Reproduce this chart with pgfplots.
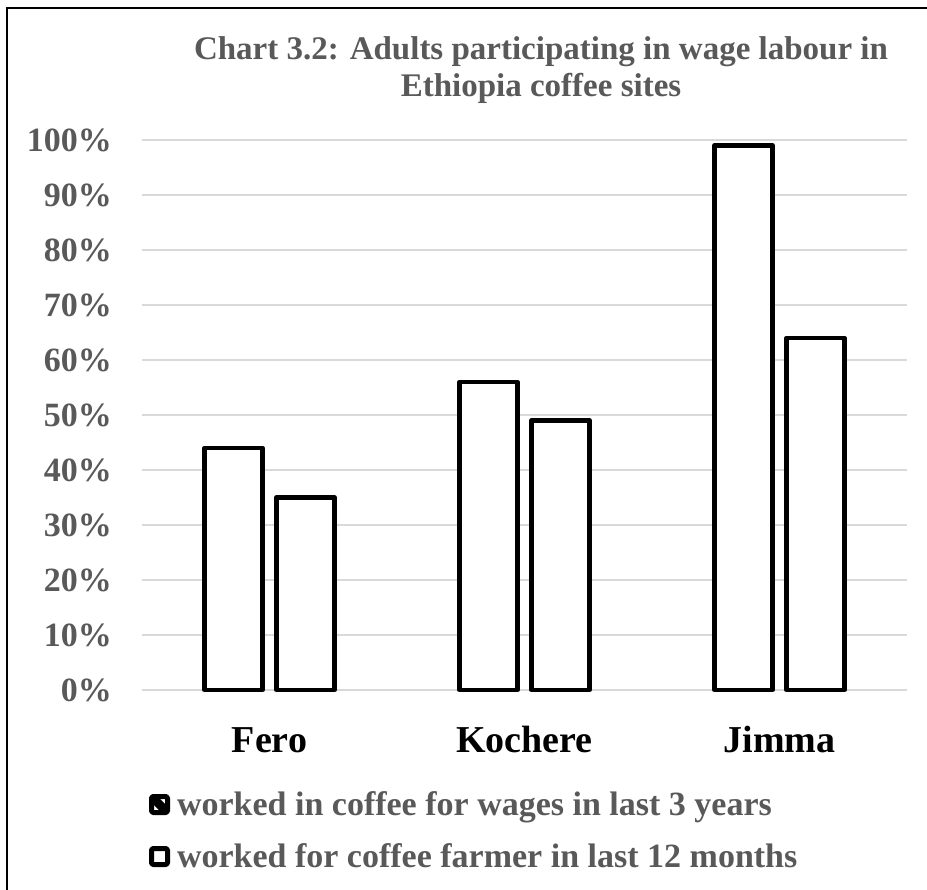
\documentclass[border=0pt]{standalone}
\usepackage{fontspec}
\setmainfont{Liberation Serif}
\usepackage{pgfplots}
\pgfplotsset{compat=1.18}
\definecolor{tgray}{HTML}{595959}
\definecolor{ggray}{HTML}{D9D9D9}
\begin{document}
\begin{tikzpicture}
\useasboundingbox (0,0) rectangle (927bp,890bp);
\draw[line width=2.5bp] (7bp,0) -- (7bp,882bp) -- (927bp,882bp);
\node[anchor=base, text=tgray, font=\bfseries\fontsize{33bp}{37bp}\selectfont, inner sep=0pt] at (541bp,830bp) {Chart 3.2: Adults participating in wage labour in};
\node[anchor=base, text=tgray, font=\bfseries\fontsize{33bp}{37bp}\selectfont, inner sep=0pt] at (541bp,793bp) {Ethiopia coffee sites};
\begin{axis}[
  at={(142bp,200bp)}, anchor=south west,
  scale only axis, width=765bp, height=550bp,
  xmin=-0.5, xmax=2.5, ymin=0, ymax=100,
  enlargelimits=false, clip=false,
  ybar=14bp, bar width=58bp,
  axis lines=left,
  axis line style={draw=none},
  major tick length=0pt,
  tick style={draw=none},
  ymajorgrids,
  major grid style={line width=1.5bp, draw=ggray},
  ytick={0,10,20,30,40,50,60,70,80,90,100},
  yticklabels={0\%,10\%,20\%,30\%,40\%,50\%,60\%,70\%,80\%,90\%,100\%},
  yticklabel style={anchor=east, inner sep=0pt, xshift=-30bp, text=tgray, font=\bfseries\fontsize{34bp}{40bp}\selectfont},
  xtick={0,1,2},
  xticklabels={Fero,Kochere,Jimma},
  xticklabel style={anchor=base, inner sep=0pt, yshift=-62bp, text=black, font=\bfseries\fontsize{38bp}{44bp}\selectfont},
  legend style={
    at={(axis description cs:0.00915,-0.18364)}, anchor=north west,
    draw=none, fill=none, inner sep=0pt, outer sep=0pt,
    row sep=21bp, column sep=7bp,
    text=tgray, font=\bfseries\fontsize{34bp}{40bp}\selectfont,
    nodes={inner sep=0pt, text height=24bp, text depth=7bp},
    cells={anchor=base west},
  },
  legend columns=1,
]
\addplot[draw=black, fill=white, line width=4.3bp, line join=round,
  legend image code/.code={
    \draw[black, line width=5bp, rounded corners=1.5bp, fill=white] (2.5bp,2.5bp) rectangle (18.5bp,18.5bp);
    \fill[black] (6bp,15bp) -- (9bp,15bp) -- (15bp,9bp) -- (15bp,6bp) -- (12bp,6bp) -- (6bp,12bp) -- cycle;
  }] coordinates {(0,44) (1,56) (2,99)};
\addplot[draw=black, fill=white, line width=4.3bp, line join=round,
  legend image code/.code={
    \draw[black, line width=5bp, rounded corners=1.5bp, fill=white] (2.5bp,2.5bp) rectangle (18.5bp,18.5bp);
  }] coordinates {(0,35) (1,49) (2,64)};
\legend{worked in coffee for wages in last 3 years, worked for coffee farmer in last 12 months}
\end{axis}
\end{tikzpicture}
\end{document}
